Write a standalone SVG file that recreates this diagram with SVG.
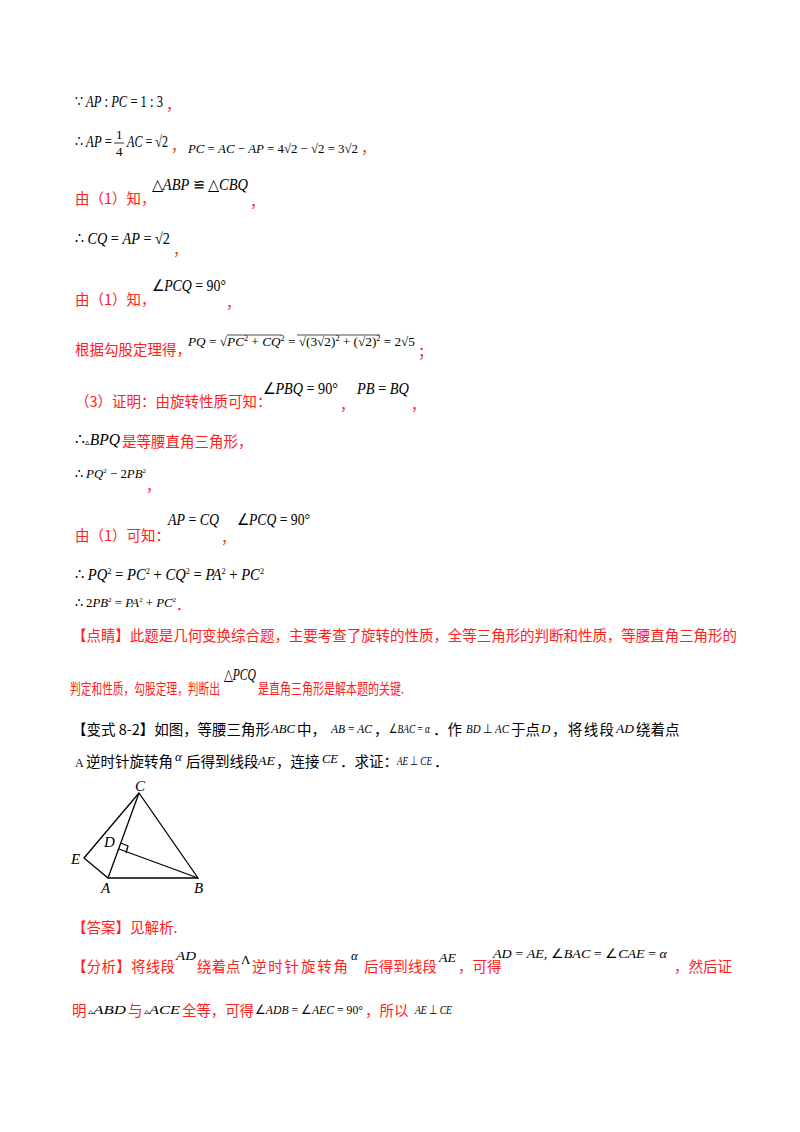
<svg xmlns="http://www.w3.org/2000/svg" width="800" height="1132" viewBox="0 0 800 1132">
<style>
.r{fill:#ff2020;font-family:"Noto Sans CJK SC",sans-serif;font-size:14.5px}
.k{fill:#000;font-family:"Noto Sans CJK SC",sans-serif;font-size:14.5px}
.m{fill:#000;font-family:"Liberation Serif",serif;font-size:16px;font-style:italic}
.s{fill:#000;font-family:"Liberation Serif",serif;font-size:13px;font-style:italic}
.n{font-style:normal}
.fig{fill:none;stroke:#000;stroke-width:1.3}
</style>
<rect width="800" height="1132" fill="#fff"/>
<text class="m" x="75" y="107" textLength="88" lengthAdjust="spacingAndGlyphs"><tspan class="n">∵ </tspan>AP<tspan class="n"> : </tspan>PC<tspan class="n"> = 1 : 3</tspan></text>
<text class="r" x="166" y="110">，</text>
<text class="m" x="75" y="147" textLength="37" lengthAdjust="spacingAndGlyphs"><tspan class="n">∴ </tspan>AP<tspan class="n"> =</tspan></text>
<text class="s" x="116" y="139" style="font-style:normal">1</text>
<line x1="114" y1="143" x2="124" y2="143" stroke="#000" stroke-width="0.8"/>
<text class="s" x="116" y="156" style="font-style:normal">4</text>
<text class="m" x="127" y="147" textLength="41" lengthAdjust="spacingAndGlyphs">AC<tspan class="n"> = √2</tspan></text>
<text class="r" x="171" y="151">，</text>
<text class="s" x="188" y="153" textLength="170" lengthAdjust="spacingAndGlyphs">PC<tspan class="n"> = </tspan>AC<tspan class="n"> − </tspan>AP<tspan class="n"> = 4√2 − √2 = 3√2</tspan></text>
<text class="r" x="361" y="153">，</text>
<text class="r" x="75" y="204">由（1）知，</text>
<text class="m" x="152" y="190" textLength="96" lengthAdjust="spacingAndGlyphs"><tspan class="n">△</tspan>ABP<tspan class="n"> ≌ △</tspan>CBQ</text>
<text class="r" x="250" y="207">，</text>
<text class="m" x="75" y="244" textLength="95" lengthAdjust="spacingAndGlyphs"><tspan class="n">∴ </tspan>CQ<tspan class="n"> = </tspan>AP<tspan class="n"> = √2</tspan></text>
<text class="r" x="173" y="255">，</text>
<text class="r" x="75" y="305">由（1）知，</text>
<text class="m" x="152" y="291" textLength="74" lengthAdjust="spacingAndGlyphs"><tspan class="n">∠</tspan>PCQ<tspan class="n"> = 90°</tspan></text>
<text class="r" x="226" y="308">，</text>
<text class="r" x="75" y="355">根据勾股定理得，</text>
<text class="s" x="188" y="346" textLength="227" lengthAdjust="spacingAndGlyphs">PQ<tspan class="n"> = √</tspan>PC<tspan class="n" font-size="8" dy="-5">2</tspan><tspan class="n" dy="5"> + </tspan>CQ<tspan class="n" font-size="8" dy="-5">2</tspan><tspan class="n" dy="5"> = √(3√2)</tspan><tspan class="n" font-size="8" dy="-5">2</tspan><tspan class="n" dy="5"> + (√2)</tspan><tspan class="n" font-size="8" dy="-5">2</tspan><tspan class="n" dy="5"> = 2√5</tspan></text>
<line x1="227" y1="335" x2="282" y2="335" stroke="#000" stroke-width="0.7"/>
<line x1="297" y1="335" x2="380" y2="335" stroke="#000" stroke-width="0.7"/>
<text class="r" x="418" y="357">；</text>
<text class="r" x="75" y="407">（3）证明：由旋转性质可知：</text>
<text class="m" x="263" y="394" textLength="75" lengthAdjust="spacingAndGlyphs"><tspan class="n">∠</tspan>PBQ<tspan class="n"> = 90°</tspan></text>
<text class="r" x="340" y="410">，</text>
<text class="m" x="357" y="394" textLength="52" lengthAdjust="spacingAndGlyphs">PB<tspan class="n"> = </tspan>BQ</text>
<text class="r" x="411" y="410">，</text>
<text class="m" x="75" y="445" textLength="45" lengthAdjust="spacingAndGlyphs"><tspan class="n">∴</tspan><tspan class="n" font-size="9">▵</tspan>BPQ</text>
<text class="r" x="122" y="447">是等腰直角三角形，</text>
<text class="s" x="75" y="478" textLength="71" lengthAdjust="spacingAndGlyphs"><tspan class="n">∴ </tspan>PQ<tspan class="n" font-size="7" dy="-5">2</tspan><tspan class="n" dy="5"> − 2</tspan>PB<tspan class="n" font-size="7" dy="-5">2</tspan></text>
<text class="r" x="146" y="491">，</text>
<text class="r" x="75" y="541">由（1）可知：</text>
<text class="m" x="168" y="525" textLength="51" lengthAdjust="spacingAndGlyphs">AP<tspan class="n"> = </tspan>CQ</text>
<text class="r" x="221" y="543">，</text>
<text class="m" x="237" y="525" textLength="73" lengthAdjust="spacingAndGlyphs"><tspan class="n">∠</tspan>PCQ<tspan class="n"> = 90°</tspan></text>
<text class="m" x="75" y="580" textLength="189" lengthAdjust="spacingAndGlyphs"><tspan class="n">∴ </tspan>PQ<tspan class="n" font-size="9" dy="-6">2</tspan><tspan class="n" dy="6"> = </tspan>PC<tspan class="n" font-size="9" dy="-6">2</tspan><tspan class="n" dy="6"> + </tspan>CQ<tspan class="n" font-size="9" dy="-6">2</tspan><tspan class="n" dy="6"> = </tspan>PA<tspan class="n" font-size="9" dy="-6">2</tspan><tspan class="n" dy="6"> + </tspan>PC<tspan class="n" font-size="9" dy="-6">2</tspan></text>
<text class="s" x="75" y="607" textLength="101" lengthAdjust="spacingAndGlyphs"><tspan class="n">∴ 2</tspan>PB<tspan class="n" font-size="7" dy="-5">2</tspan><tspan class="n" dy="5"> = </tspan>PA<tspan class="n" font-size="7" dy="-5">2</tspan><tspan class="n" dy="5"> + </tspan>PC<tspan class="n" font-size="7" dy="-5">2</tspan></text>
<text class="r" x="176" y="610">．</text>
<text class="r" x="72" y="641" textLength="665">【点睛】此题是几何变换综合题，主要考查了旋转的性质，全等三角形的判断和性质，等腰直角三角形的</text>
<text class="r" x="70" y="694" font-size="13" textLength="150" lengthAdjust="spacingAndGlyphs">判定和性质，勾股定理，判断出</text>
<text class="m" x="224" y="680" textLength="32" lengthAdjust="spacingAndGlyphs"><tspan class="n">△</tspan>PCQ</text>
<text class="r" x="258" y="694" font-size="13" textLength="146" lengthAdjust="spacingAndGlyphs">是直角三角形是解本题的关键.</text>
<text class="k" x="72" y="735" textLength="198">【变式 8-2】如图，等腰三角形</text>
<text class="s" x="271" y="733" textLength="24" lengthAdjust="spacingAndGlyphs">ABC</text>
<text class="k" x="297" y="735">中，</text>
<text class="s" x="331" y="733" textLength="41" lengthAdjust="spacingAndGlyphs">AB<tspan class="n"> = </tspan>AC</text>
<text class="k" x="374" y="735">，</text>
<text class="s" x="389" y="733" textLength="41" lengthAdjust="spacingAndGlyphs"><tspan class="n">∠</tspan>BAC<tspan class="n"> = </tspan>α</text>
<text class="k" x="433" y="735">．作</text>
<text class="s" x="466" y="733" textLength="43" lengthAdjust="spacingAndGlyphs">BD<tspan class="n"> ⊥ </tspan>AC</text>
<text class="k" x="511" y="735">于点</text>
<text class="s" x="541" y="733">D</text>
<text class="k" x="552" y="735" textLength="62">，将线段</text>
<text class="s" x="616" y="733" textLength="18" lengthAdjust="spacingAndGlyphs">AD</text>
<text class="k" x="636" y="735">绕着点</text>
<text class="k" x="75" y="767"><tspan font-family="Liberation Serif" font-size="12">A </tspan>逆时针旋转角</text>
<text class="s" x="175" y="761">α</text>
<text class="k" x="186" y="767">后得到线段</text>
<text class="s" x="258" y="765" textLength="17" lengthAdjust="spacingAndGlyphs">AE</text>
<text class="k" x="276" y="767">，连接</text>
<text class="s" x="322" y="763" textLength="16" lengthAdjust="spacingAndGlyphs">CE</text>
<text class="k" x="340" y="767">．求证：</text>
<text class="s" x="397" y="765" textLength="35" lengthAdjust="spacingAndGlyphs">AE<tspan class="n"> ⊥ </tspan>CE</text>
<text class="k" x="434" y="767">．</text>
<g id="figure">
<polygon class="fig" points="139,793 84,858 108,878 198,878"/>
<line class="fig" x1="139" y1="793" x2="108" y2="878"/>
<line class="fig" x1="198" y1="878" x2="119" y2="849"/>
<polyline class="fig" points="121,843 128,846 126,853" stroke-width="1"/>
<g font-family="Liberation Serif" font-style="italic" font-size="15">
<text x="135" y="791">C</text><text x="71" y="864">E</text><text x="104" y="847">D</text><text x="101" y="893">A</text><text x="194" y="893">B</text>
</g>
</g>
<text class="r" x="72" y="933">【答案】见解析.</text>
<text class="r" x="72" y="972" textLength="103">【分析】将线段</text>
<text class="s" x="176" y="960" textLength="20" lengthAdjust="spacingAndGlyphs">AD</text>
<text class="r" x="197" y="972">绕着点</text>
<text class="s" x="241" y="964" style="font-style:normal">Λ</text>
<text class="r" x="252" y="972" textLength="96">逆时针旋转角</text>
<text class="s" x="351" y="960">α</text>
<text class="r" x="364" y="972" textLength="73">后得到线段</text>
<text class="s" x="439" y="962" textLength="17" lengthAdjust="spacingAndGlyphs">AE</text>
<text class="r" x="458" y="972">，可得</text>
<text class="s" x="493" y="958" textLength="174" lengthAdjust="spacingAndGlyphs">AD<tspan class="n"> = </tspan>AE<tspan class="n">, ∠</tspan>BAC<tspan class="n"> = ∠</tspan>CAE<tspan class="n"> = </tspan>α</text>
<text class="r" x="674" y="972">，然后证</text>
<text class="r" x="72" y="1016">明</text>
<text class="s" x="88" y="1014" textLength="38" lengthAdjust="spacingAndGlyphs"><tspan class="n" font-size="8">▵</tspan>ABD</text>
<text class="r" x="128" y="1016">与</text>
<text class="s" x="144" y="1014" textLength="36" lengthAdjust="spacingAndGlyphs"><tspan class="n" font-size="8">▵</tspan>ACE</text>
<text class="r" x="182" y="1016" textLength="72">全等，可得</text>
<text class="s" x="255" y="1014" textLength="108" lengthAdjust="spacingAndGlyphs"><tspan class="n">∠</tspan>ADB<tspan class="n"> = ∠</tspan>AEC<tspan class="n"> = 90°</tspan></text>
<text class="r" x="365" y="1016">，所以</text>
<text class="s" x="415" y="1014" textLength="37" lengthAdjust="spacingAndGlyphs">AE<tspan class="n"> ⊥ </tspan>CE</text>
</svg>
